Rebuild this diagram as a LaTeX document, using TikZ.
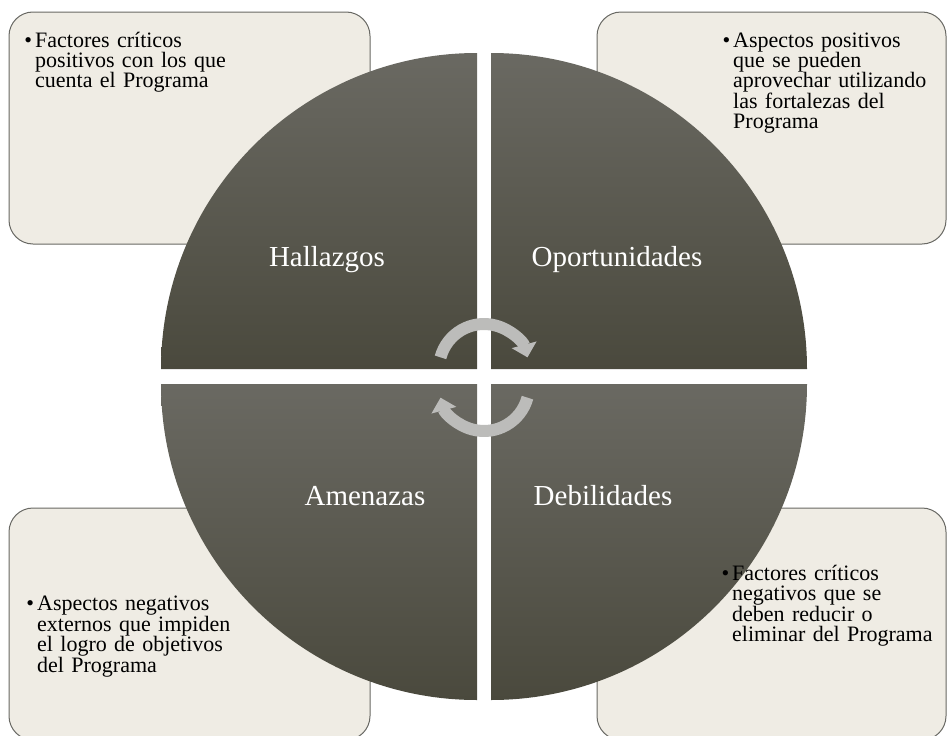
\documentclass[tikz,border=0pt]{standalone}
\usepackage{fontspec}
\setmainfont{Liberation Serif}
\usetikzlibrary{arrows.meta}

\definecolor{boxfill}{RGB}{239,236,228}
\definecolor{boxline}{RGB}{105,105,100}
\definecolor{quadtop}{RGB}{106,105,98}
\definecolor{quadbot}{RGB}{74,73,61}
\definecolor{arrowgray}{RGB}{188,188,186}

\tikzset{
  notebox/.style={draw=boxline, fill=boxfill, line width=1pt, rounded corners=24pt},
  quad/.style={top color=quadtop, bottom color=quadbot, draw=none},
  note/.style={anchor=base west, inner sep=0pt, text width=230pt, align=left,
    font=\fontsize{22}{20}\selectfont},
  lbl/.style={anchor=base, inner sep=0pt, text=white, font=\fontsize{29}{32}\selectfont},
  cyc/.style={draw=arrowgray, line width=12pt, -{Triangle[width=25pt,length=13pt]}}
}
\newcommand{\blt}{\llap{\textbullet\hspace{3pt}}}

\begin{document}
\begin{tikzpicture}[x=1pt, y=1pt]
	\useasboundingbox (0,0) rectangle (948,-736);
	
	% corner boxes
	\draw [notebox] (9,-12) rectangle (370,-244);
	\draw [notebox] (597,-12) rectangle (946,-244);
	\draw [notebox] (9,-508) rectangle (370,-740);
	\draw [notebox] (597,-508) rectangle (946,-740);
	
	% quarters of the circle
	\shade [quad] (477,-53) arc [start angle=90, end angle=180, radius=316] -- (477,-369) -- cycle;
	\shade [quad] (491,-53) arc [start angle=90, end angle=0, radius=316] -- (491,-369) -- cycle;
	\shade [quad] (477,-700) arc [start angle=270, end angle=180, radius=316] -- (477,-384) -- cycle;
	\shade [quad] (491,-700) arc [start angle=-90, end angle=0, radius=316] -- (491,-384) -- cycle;
	
	\node [lbl] (halq) at (327,-266) {Hallazgos};
	\node [lbl] (opoq) at (617,-266) {Oportunidades};
	\node [lbl] (ameq) at (365,-505) {Amenazas};
	\node [lbl] (debq) at (603,-505) {Debilidades};
	
	\node [note] (hal) at (35,-47) {\blt Factores críticos\\ positivos con los que\\ cuenta el Programa};
	\node [note] (opo) at (733,-47) {\blt Aspectos positivos\\ que se pueden\\ aprovechar utilizando\\ las fortalezas del\\ Programa};
	\node [note] (ame) at (37,-610) {\blt Aspectos negativos\\ externos que impiden\\ el logro de objetivos\\ del Programa};
	\node [note] (deb) at (732,-580) {\blt Factores críticos\\ negativos que se\\ deben reducir o\\ eliminar del Programa};
	
	% cycle arrows
	\coordinate (up) at (484,-369);
	\coordinate (dn) at (484,-386);
	\draw [cyc] ([shift={(165:45)}]up) arc [start angle=165, end angle=15, radius=45];
	\draw [cyc] ([shift={(-15:45)}]dn) arc [start angle=-15, end angle=-165, radius=45];
\end{tikzpicture}
\end{document}
